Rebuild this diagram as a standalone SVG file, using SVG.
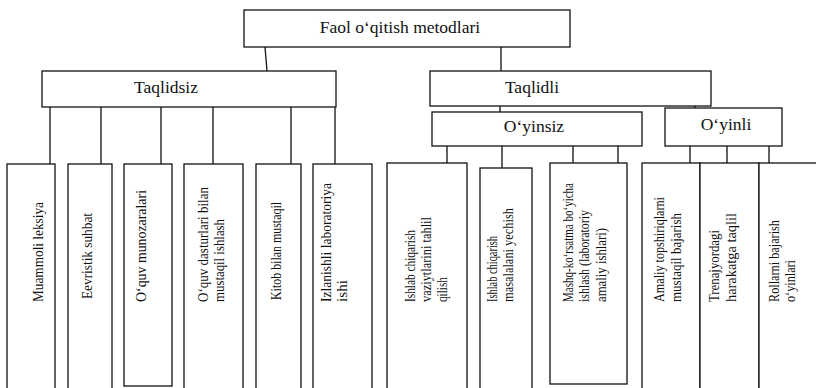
<svg xmlns="http://www.w3.org/2000/svg" width="816" height="388" viewBox="0 0 816 388">
<style>
.b{fill:#fff;stroke:#111;stroke-width:1.3}
.c{fill:none;stroke:#111;stroke-width:1.3}
.h{font-family:"Liberation Serif","Times New Roman",serif;font-size:17.5px;fill:#111;text-anchor:middle}
.v{font-family:"Liberation Serif","Times New Roman",serif;font-size:15.5px;fill:#111;text-anchor:start}
</style>
<rect width="816" height="388" fill="#fff"/>
<g id="connectors">
<path class="c" d="M265 47L267 71M501 47V71"/>
<path class="c" d="M50 107V164M101 107V164M161 107V164M213 107V164M291 107V164M335 107V164"/>
<path class="c" d="M500 106V112M695 106V108"/>
<path class="c" d="M447 146V163M502 146V168M573 146V163M618 146V163"/>
<path class="c" d="M690 146V163M727 146V163M769 146V163"/>
</g>
<g id="root"><rect class="b" x="244" y="10" width="326" height="37"/><text class="h" x="400" y="33">Faol o‘qitish metodlari</text></g>
<g id="taqlidsiz"><rect class="b" x="42" y="71" width="294" height="36"/><text class="h" x="166" y="93">Taqlidsiz</text></g>
<g id="taqlidli"><rect class="b" x="430" y="71" width="281" height="35"/><text class="h" x="532" y="93">Taqlidli</text></g>
<g id="oyinsiz"><rect class="b" x="432" y="112" width="210" height="34"/><text class="h" x="534" y="132">O‘yinsiz</text></g>
<g id="oyinli"><rect class="b" x="665" y="108" width="117" height="38"/><text class="h" x="726" y="130">O‘yinli</text></g>

<g id="n1"><rect class="b" x="7" y="164" width="48" height="230"/><text class="v" transform="translate(43 302) rotate(-90)" textLength="100" lengthAdjust="spacingAndGlyphs">Muammoli leksiya</text></g>
<g id="n2"><rect class="b" x="68" y="164" width="44" height="230"/><text class="v" transform="translate(92 299) rotate(-90)" textLength="86" lengthAdjust="spacingAndGlyphs">Eevristik suhbat</text></g>
<g id="n3"><rect class="b" x="124" y="164" width="48" height="222"/><text class="v" transform="translate(146 302) rotate(-90)" textLength="112" lengthAdjust="spacingAndGlyphs">O‘quv munozaralari</text></g>
<g id="n4"><rect class="b" x="184" y="164" width="59" height="230"/><text class="v" transform="translate(208 302) rotate(-90)" textLength="115" lengthAdjust="spacingAndGlyphs">O‘quv dasturlari bilan</text><text class="v" transform="translate(224 302) rotate(-90)" textLength="83" lengthAdjust="spacingAndGlyphs">mustaqil ishlash</text></g>
<g id="n5"><rect class="b" x="256" y="164" width="45" height="230"/><text class="v" transform="translate(281 300) rotate(-90)" textLength="98" lengthAdjust="spacingAndGlyphs">Kitob bilan mustaqil</text></g>
<g id="n6"><rect class="b" x="313" y="164" width="59" height="230"/><text class="v" transform="translate(331 302) rotate(-90)" textLength="119" lengthAdjust="spacingAndGlyphs">Izlanishli laboratoriya</text><text class="v" transform="translate(347 302) rotate(-90)" textLength="22" lengthAdjust="spacingAndGlyphs">ishi</text></g>
<g id="n7"><rect class="b" x="387" y="163" width="80" height="231"/><text class="v" transform="translate(415 302) rotate(-90)" textLength="72" lengthAdjust="spacingAndGlyphs">Ishlab chiqarish</text><text class="v" transform="translate(431 302) rotate(-90)" textLength="85" lengthAdjust="spacingAndGlyphs">vaziytlarini tahlil</text><text class="v" transform="translate(447 302) rotate(-90)" textLength="25" lengthAdjust="spacingAndGlyphs">qilish</text></g>
<g id="n8"><rect class="b" x="480" y="168" width="52" height="226"/><text class="v" transform="translate(497 302) rotate(-90)" textLength="66" lengthAdjust="spacingAndGlyphs">Ishlab chiqarish</text><text class="v" transform="translate(513 302) rotate(-90)" textLength="94" lengthAdjust="spacingAndGlyphs">masalalani yechish</text></g>
<g id="n9"><rect class="b" x="550" y="163" width="77" height="221"/><text class="v" transform="translate(573 302) rotate(-90)" textLength="119" lengthAdjust="spacingAndGlyphs">Mashq-ko‘rsatma bo‘yicha</text><text class="v" transform="translate(589 302) rotate(-90)" textLength="92" lengthAdjust="spacingAndGlyphs">ishlash (laboratoriy</text><text class="v" transform="translate(606 302) rotate(-90)" textLength="74" lengthAdjust="spacingAndGlyphs">amaliy ishlari)</text></g>
<g id="n10"><rect class="b" x="642" y="163" width="58" height="231"/><text class="v" transform="translate(664 302) rotate(-90)" textLength="105" lengthAdjust="spacingAndGlyphs">Amaliy topshiriqlarni</text><text class="v" transform="translate(681 302) rotate(-90)" textLength="89" lengthAdjust="spacingAndGlyphs">mustaqil bajarish</text></g>
<g id="n11"><rect class="b" x="700" y="163" width="59" height="231"/><text class="v" transform="translate(719 302) rotate(-90)" textLength="72" lengthAdjust="spacingAndGlyphs">Trenajyordagi</text><text class="v" transform="translate(736 302) rotate(-90)" textLength="89" lengthAdjust="spacingAndGlyphs">harakatga taqlil</text></g>
<g id="n12"><rect class="b" x="759" y="163" width="60" height="231"/><text class="v" transform="translate(779 302) rotate(-90)" textLength="82" lengthAdjust="spacingAndGlyphs">Rollarni bajarish</text><text class="v" transform="translate(795 302) rotate(-90)" textLength="42" lengthAdjust="spacingAndGlyphs">o‘yinlari</text></g>
</svg>
